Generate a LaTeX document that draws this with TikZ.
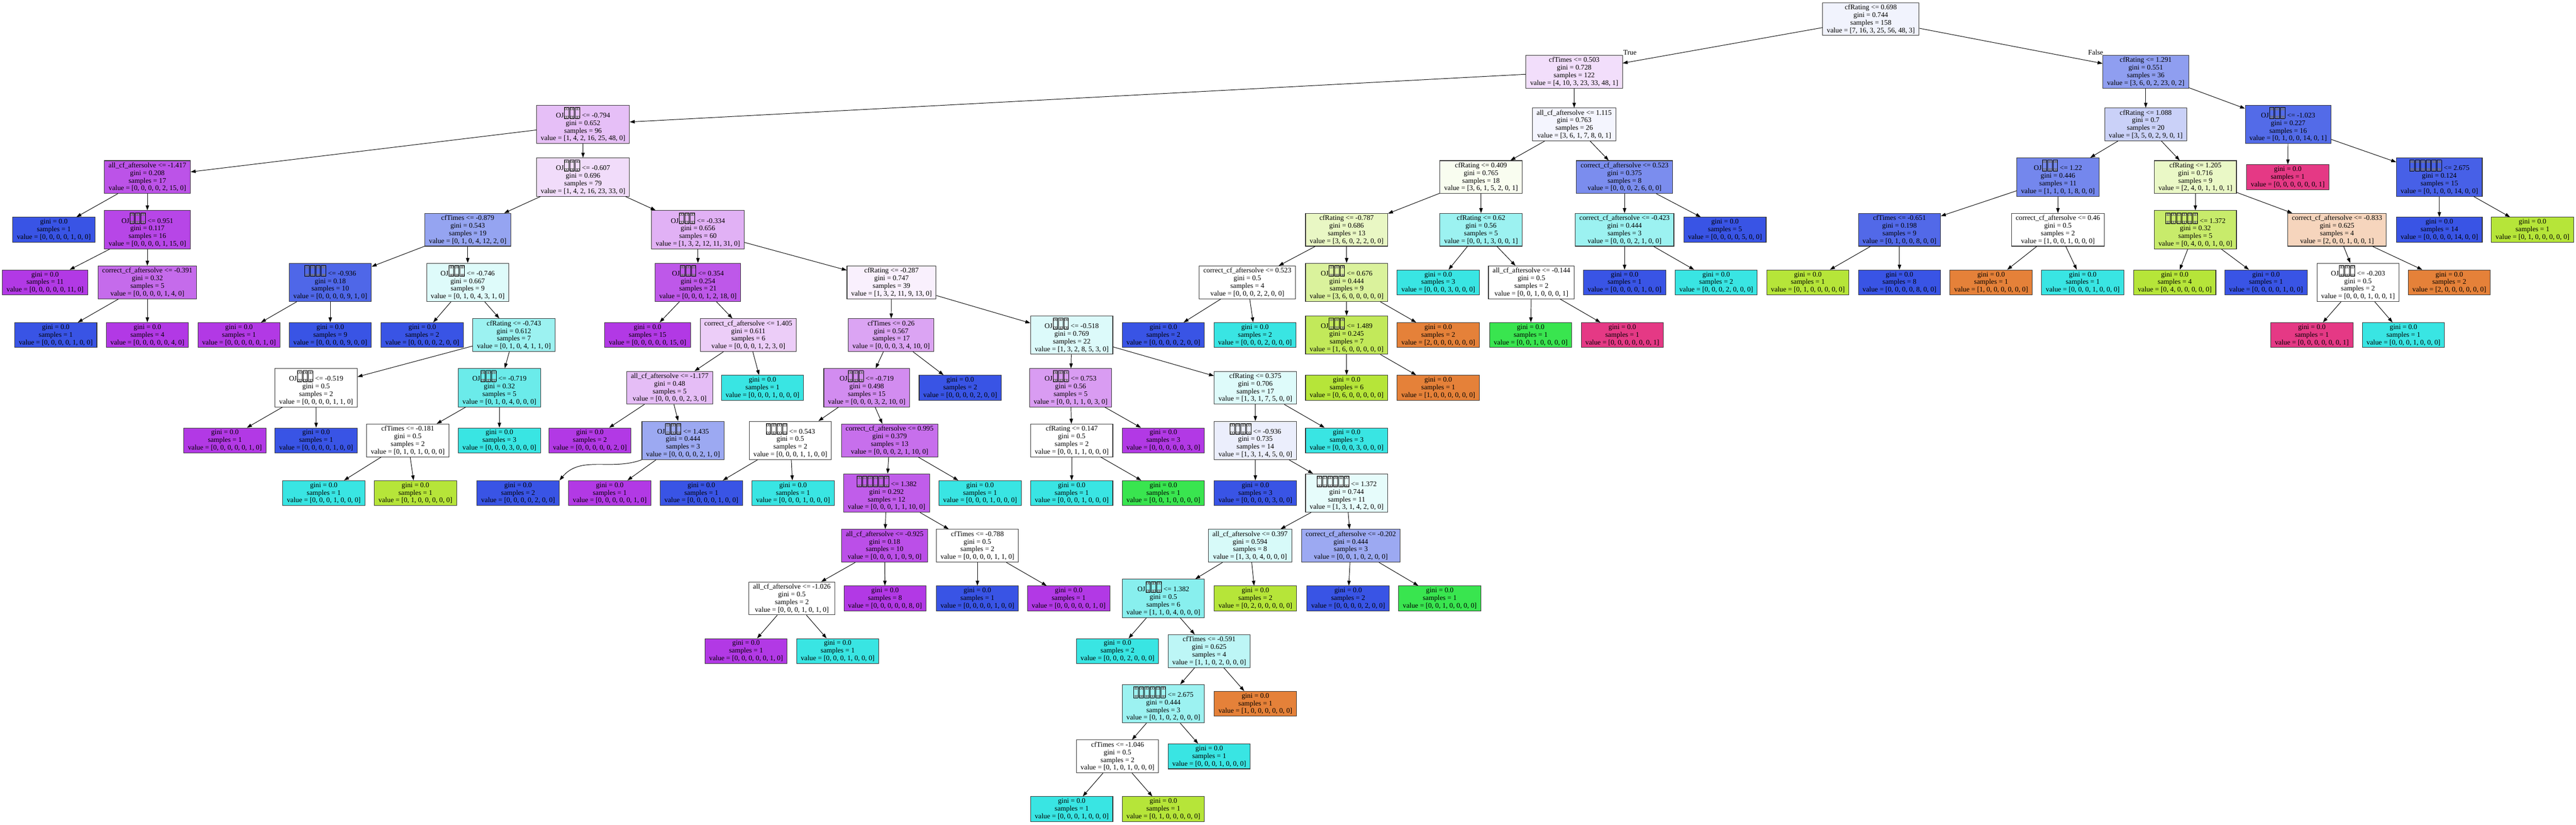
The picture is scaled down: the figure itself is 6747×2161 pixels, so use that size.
\documentclass[tikz,border=0pt]{standalone}
\usepackage{fontspec}
\setmainfont{Liberation Serif}
\usetikzlibrary{arrows.meta}
\definecolor{c0}{RGB}{229,129,57}
\definecolor{c1}{RGB}{182,229,57}
\definecolor{c2}{RGB}{57,229,79}
\definecolor{c3}{RGB}{57,229,227}
\definecolor{c4}{RGB}{57,84,229}
\definecolor{c5}{RGB}{178,57,229}
\definecolor{c6}{RGB}{229,57,133}
\newcommand\tfsmall{{\setlength\fboxrule{0.45pt}\fbox{\rule{0pt}{4.6pt}\hspace{3.2pt}}}}
\newcommand\tfbox{\kern0.9pt\begingroup\setlength\fboxsep{0pt}\setlength\fboxrule{0.8pt}\raisebox{-1.5pt}{\fbox{\kern1pt\vbox{\kern1pt\hbox{\textcolor{black!55}{\tfsmall\kern0.7pt\tfsmall}}\kern0.7pt\hbox{\textcolor{black!55}{\tfsmall\kern0.7pt\tfsmall}}\kern1pt}\kern1pt}}\endgroup\kern0.9pt}
\newcommand\ojf{OJ\tfbox\tfbox\tfbox}
\newcommand\fqf{\tfbox\tfbox\tfbox\tfbox}
\newcommand\sxf{\tfbox\tfbox\tfbox\tfbox\tfbox\tfbox}
\newcommand\lf[2]{gini = 0.0\\samples = #1\\value = [#2]}
\newcommand\acf{all\_cf\_aftersolve}
\newcommand\ccf{correct\_cf\_aftersolve}
\tikzset{
  tn/.style={draw=black!80, line width=1.4pt, rectangle, align=center, inner xsep=11pt, inner ysep=5pt, font=\fontsize{18.6}{20}\selectfont},
  edge/.style={line width=1.3pt, -{Triangle[length=13pt,width=9pt]}},
  lbl/.style={font=\fontsize{18.6}{20}\selectfont, inner sep=0pt}
}
\begin{document}
\begin{tikzpicture}[x=1pt,y=1pt]
\useasboundingbox (0,0) rectangle (6747,-2161);
\fill[white] (0,0) rectangle (6747,-2161);
% level 0-1
\node[tn, fill=c4!7.3!white] (n0) at (4900,-50) {cfRating <= 0.698\\gini = 0.744\\samples = 158\\value = [7, 16, 3, 25, 56, 48, 3]};
\node[tn, fill=c5!16.9!white] (n1) at (4123,-188) {cfTimes <= 0.503\\gini = 0.728\\samples = 122\\value = [4, 10, 3, 23, 33, 48, 1]};
\node[tn, fill=c4!56.7!white] (n100) at (5620,-188) {cfRating <= 1.291\\gini = 0.551\\samples = 36\\value = [3, 6, 0, 2, 23, 0, 2]};
\node[lbl] (tT) at (4269,-138) {True};
\node[lbl] (tF) at (5489,-138) {False};
% left big subtree
\node[tn, fill=c5!32.4!white] (n2) at (1527,-326) {\ojf{} <= -0.794\\gini = 0.652\\samples = 96\\value = [1, 4, 2, 16, 25, 48, 0]};
\node[tn, fill=c5!86.7!white] (n3) at (386,-464) {\acf{} <= -1.417\\gini = 0.208\\samples = 17\\value = [0, 0, 0, 0, 2, 15, 0]};
\node[tn, fill=c4] (n4) at (141,-602) {\lf{1}{0, 0, 0, 0, 1, 0, 0}};
\node[tn, fill=c5!93.3!white] (n5) at (386,-602) {\ojf{} <= 0.951\\gini = 0.117\\samples = 16\\value = [0, 0, 0, 0, 1, 15, 0]};
\node[tn, fill=c5] (n6) at (118,-740) {\lf{11}{0, 0, 0, 0, 0, 11, 0}};
\node[tn, fill=c5!75!white] (n7) at (386,-740) {\ccf{} <= -0.391\\gini = 0.32\\samples = 5\\value = [0, 0, 0, 0, 1, 4, 0]};
\node[tn, fill=c4] (n8) at (146,-878) {\lf{1}{0, 0, 0, 0, 1, 0, 0}};
\node[tn, fill=c5] (n9) at (386,-878) {\lf{4}{0, 0, 0, 0, 0, 4, 0}};
\node[tn, fill=c5!17.9!white] (n10) at (1527,-464) {\ojf{} <= -0.607\\gini = 0.696\\samples = 79\\value = [1, 4, 2, 16, 23, 33, 0]};
\node[tn, fill=c4!53.3!white] (n11) at (1225,-602) {cfTimes <= -0.879\\gini = 0.543\\samples = 19\\value = [0, 1, 0, 4, 12, 2, 0]};
\node[tn, fill=c4!88.9!white] (n12) at (865,-740) {\fqf{} <= -0.936\\gini = 0.18\\samples = 10\\value = [0, 0, 0, 0, 9, 1, 0]};
\node[tn, fill=c5] (n13) at (626,-878) {\lf{1}{0, 0, 0, 0, 0, 1, 0}};
\node[tn, fill=c4] (n14) at (865,-878) {\lf{9}{0, 0, 0, 0, 9, 0, 0}};
\node[tn, fill=c3!16.7!white] (n15) at (1225,-740) {\ojf{} <= -0.746\\gini = 0.667\\samples = 9\\value = [0, 1, 0, 4, 3, 1, 0]};
\node[tn, fill=c4] (n16) at (1106,-878) {\lf{2}{0, 0, 0, 0, 2, 0, 0}};
\node[tn, fill=c3!50!white] (n17) at (1346,-878) {cfRating <= -0.743\\gini = 0.612\\samples = 7\\value = [0, 1, 0, 4, 1, 1, 0]};
\node[tn, fill=white] (n18) at (828,-1016) {\ojf{} <= -0.519\\gini = 0.5\\samples = 2\\value = [0, 0, 0, 0, 1, 1, 0]};
\node[tn, fill=c5] (n19) at (589,-1154) {\lf{1}{0, 0, 0, 0, 0, 1, 0}};
\node[tn, fill=c4] (n20) at (828,-1154) {\lf{1}{0, 0, 0, 0, 1, 0, 0}};
\node[tn, fill=c3!75!white] (n21) at (1308,-1016) {\ojf{} <= -0.719\\gini = 0.32\\samples = 5\\value = [0, 1, 0, 4, 0, 0, 0]};
\node[tn, fill=white] (n22) at (1068,-1154) {cfTimes <= -0.181\\gini = 0.5\\samples = 2\\value = [0, 1, 0, 1, 0, 0, 0]};
\node[tn, fill=c3] (n23) at (848,-1292) {\lf{1}{0, 0, 0, 1, 0, 0, 0}};
\node[tn, fill=c1] (n24) at (1088,-1292) {\lf{1}{0, 1, 0, 0, 0, 0, 0}};
\node[tn, fill=c3] (n25) at (1308,-1154) {\lf{3}{0, 0, 0, 3, 0, 0, 0}};
\node[tn, fill=c5!39.6!white] (n26) at (1828,-602) {\ojf{} <= -0.334\\gini = 0.656\\samples = 60\\value = [1, 3, 2, 12, 11, 31, 0]};
\node[tn, fill=c5!84.2!white] (n27) at (1828,-740) {\ojf{} <= 0.354\\gini = 0.254\\samples = 21\\value = [0, 0, 0, 1, 2, 18, 0]};
\node[tn, fill=c5] (n28) at (1696,-878) {\lf{15}{0, 0, 0, 0, 0, 15, 0}};
\node[tn, fill=c5!25!white] (n29) at (1960,-878) {\ccf{} <= 1.405\\gini = 0.611\\samples = 6\\value = [0, 0, 0, 1, 2, 3, 0]};
\node[tn, fill=c5!33.3!white] (n30) at (1754,-1016) {\acf{} <= -1.177\\gini = 0.48\\samples = 5\\value = [0, 0, 0, 0, 2, 3, 0]};
\node[tn, fill=c5] (n31) at (1545,-1154) {\lf{2}{0, 0, 0, 0, 0, 2, 0}};
\node[tn, fill=c4!50!white] (n32) at (1789,-1154) {\ojf{} <= 1.435\\gini = 0.444\\samples = 3\\value = [0, 0, 0, 0, 2, 1, 0]};
\node[tn, fill=c4] (n33) at (1357,-1292) {\lf{2}{0, 0, 0, 0, 2, 0, 0}};
\node[tn, fill=c5] (n34) at (1597,-1292) {\lf{1}{0, 0, 0, 0, 0, 1, 0}};
\node[tn, fill=c3] (n35) at (1997,-1016) {\lf{1}{0, 0, 0, 1, 0, 0, 0}};
\node[tn, fill=c5!7.7!white] (n36) at (2335,-740) {cfRating <= -0.287\\gini = 0.747\\samples = 39\\value = [1, 3, 2, 11, 9, 13, 0]};
\node[tn, fill=c5!46.2!white] (n37) at (2334,-878) {cfTimes <= 0.26\\gini = 0.567\\samples = 17\\value = [0, 0, 0, 3, 4, 10, 0]};
\node[tn, fill=c5!58.3!white] (n38) at (2270,-1016) {\ojf{} <= -0.719\\gini = 0.498\\samples = 15\\value = [0, 0, 0, 3, 2, 10, 0]};
\node[tn, fill=white] (n39) at (2070,-1154) {\fqf{} <= 0.543\\gini = 0.5\\samples = 2\\value = [0, 0, 0, 1, 1, 0, 0]};
\node[tn, fill=c4] (n40) at (1837,-1292) {\lf{1}{0, 0, 0, 0, 1, 0, 0}};
\node[tn, fill=c3] (n41) at (2077,-1292) {\lf{1}{0, 0, 0, 1, 0, 0, 0}};
\node[tn, fill=c5!72.7!white] (n42) at (2330,-1154) {\ccf{} <= 0.995\\gini = 0.379\\samples = 13\\value = [0, 0, 0, 2, 1, 10, 0]};
\node[tn, fill=c5!81.8!white] (n43) at (2322,-1292) {\sxf{} <= 1.382\\gini = 0.292\\samples = 12\\value = [0, 0, 0, 1, 1, 10, 0]};
\node[tn, fill=c5!88.9!white] (n44) at (2317,-1430) {\acf{} <= -0.925\\gini = 0.18\\samples = 10\\value = [0, 0, 0, 1, 0, 9, 0]};
\node[tn, fill=white] (n45) at (2074,-1568) {\acf{} <= -1.026\\gini = 0.5\\samples = 2\\value = [0, 0, 0, 1, 0, 1, 0]};
\node[tn, fill=c5] (n46) at (1954,-1706) {\lf{1}{0, 0, 0, 0, 0, 1, 0}};
\node[tn, fill=c3] (n47) at (2194,-1706) {\lf{1}{0, 0, 0, 1, 0, 0, 0}};
\node[tn, fill=c5] (n48) at (2318,-1568) {\lf{8}{0, 0, 0, 0, 0, 8, 0}};
\node[tn, fill=white] (n49) at (2560,-1430) {cfTimes <= -0.788\\gini = 0.5\\samples = 2\\value = [0, 0, 0, 0, 1, 1, 0]};
\node[tn, fill=c4] (n50) at (2560,-1568) {\lf{1}{0, 0, 0, 0, 1, 0, 0}};
\node[tn, fill=c5] (n51) at (2799,-1568) {\lf{1}{0, 0, 0, 0, 0, 1, 0}};
\node[tn, fill=c3] (n52) at (2567,-1292) {\lf{1}{0, 0, 0, 1, 0, 0, 0}};
\node[tn, fill=c4] (n53) at (2515,-1016) {\lf{2}{0, 0, 0, 0, 2, 0, 0}};
\node[tn, fill=c3!17.6!white] (n54) at (2807,-878) {\ojf{} <= -0.518\\gini = 0.769\\samples = 22\\value = [1, 3, 2, 8, 5, 3, 0]};
\node[tn, fill=c5!50!white] (n55) at (2804,-1016) {\ojf{} <= 0.753\\gini = 0.56\\samples = 5\\value = [0, 0, 1, 1, 0, 3, 0]};
\node[tn, fill=white] (n56) at (2807,-1154) {cfRating <= 0.147\\gini = 0.5\\samples = 2\\value = [0, 0, 1, 1, 0, 0, 0]};
\node[tn, fill=c3] (n57) at (2807,-1292) {\lf{1}{0, 0, 0, 1, 0, 0, 0}};
\node[tn, fill=c2] (n58) at (3047,-1292) {\lf{1}{0, 0, 1, 0, 0, 0, 0}};
\node[tn, fill=c5] (n59) at (3047,-1154) {\lf{3}{0, 0, 0, 0, 0, 3, 0}};
\node[tn, fill=c3!16.7!white] (n60) at (3288,-1016) {cfRating <= 0.375\\gini = 0.706\\samples = 17\\value = [1, 3, 1, 7, 5, 0, 0]};
\node[tn, fill=c4!10!white] (n61) at (3288,-1154) {\fqf{} <= -0.936\\gini = 0.735\\samples = 14\\value = [1, 3, 1, 4, 5, 0, 0]};
\node[tn, fill=c4] (n62) at (3288,-1292) {\lf{3}{0, 0, 0, 0, 3, 0, 0}};
\node[tn, fill=c3!12.5!white] (n63) at (3527,-1292) {\sxf{} <= 1.372\\gini = 0.744\\samples = 11\\value = [1, 3, 1, 4, 2, 0, 0]};
\node[tn, fill=c3!20!white] (n64) at (3274,-1430) {\acf{} <= 0.397\\gini = 0.594\\samples = 8\\value = [1, 3, 0, 4, 0, 0, 0]};
\node[tn, fill=c3!60!white] (n65) at (3047,-1568) {\ojf{} <= 1.382\\gini = 0.5\\samples = 6\\value = [1, 1, 0, 4, 0, 0, 0]};
\node[tn, fill=c3] (n66) at (2927,-1706) {\lf{2}{0, 0, 0, 2, 0, 0, 0}};
\node[tn, fill=c3!33.3!white] (n67) at (3167,-1706) {cfTimes <= -0.591\\gini = 0.625\\samples = 4\\value = [1, 1, 0, 2, 0, 0, 0]};
\node[tn, fill=c3!50!white] (n68) at (3047,-1844) {\sxf{} <= 2.675\\gini = 0.444\\samples = 3\\value = [0, 1, 0, 2, 0, 0, 0]};
\node[tn, fill=white] (n69) at (2927,-1982) {cfTimes <= -1.046\\gini = 0.5\\samples = 2\\value = [0, 1, 0, 1, 0, 0, 0]};
\node[tn, fill=c3] (n70) at (2807,-2120) {\lf{1}{0, 0, 0, 1, 0, 0, 0}};
\node[tn, fill=c1] (n71) at (3047,-2120) {\lf{1}{0, 1, 0, 0, 0, 0, 0}};
\node[tn, fill=c3] (n72) at (3167,-1982) {\lf{1}{0, 0, 0, 1, 0, 0, 0}};
\node[tn, fill=c0] (n73) at (3288,-1844) {\lf{1}{1, 0, 0, 0, 0, 0, 0}};
\node[tn, fill=c1] (n74) at (3288,-1568) {\lf{2}{0, 2, 0, 0, 0, 0, 0}};
\node[tn, fill=c4!50!white] (n75) at (3538,-1430) {\ccf{} <= -0.202\\gini = 0.444\\samples = 3\\value = [0, 0, 1, 0, 2, 0, 0]};
\node[tn, fill=c4] (n76) at (3531,-1568) {\lf{2}{0, 0, 0, 0, 2, 0, 0}};
\node[tn, fill=c2] (n77) at (3771,-1568) {\lf{1}{0, 0, 1, 0, 0, 0, 0}};
\node[tn, fill=c3] (n78) at (3527,-1154) {\lf{3}{0, 0, 0, 3, 0, 0, 0}};
% middle subtree
\node[tn, fill=c4!5.6!white] (n79) at (4123,-326) {\acf{} <= 1.115\\gini = 0.763\\samples = 26\\value = [3, 6, 1, 7, 8, 0, 1]};
\node[tn, fill=c1!7.7!white] (n80) at (3879,-464) {cfRating <= 0.409\\gini = 0.765\\samples = 18\\value = [3, 6, 1, 5, 2, 0, 1]};
\node[tn, fill=c1!30!white] (n81) at (3527,-602) {cfRating <= -0.787\\gini = 0.686\\samples = 13\\value = [3, 6, 0, 2, 2, 0, 0]};
\node[tn, fill=white] (n82) at (3267,-740) {\ccf{} <= 0.523\\gini = 0.5\\samples = 4\\value = [0, 0, 0, 2, 2, 0, 0]};
\node[tn, fill=c4] (n83) at (3047,-878) {\lf{2}{0, 0, 0, 0, 2, 0, 0}};
\node[tn, fill=c3] (n84) at (3287,-878) {\lf{2}{0, 0, 0, 2, 0, 0, 0}};
\node[tn, fill=c1!50!white] (n85) at (3527,-740) {\ojf{} <= 0.676\\gini = 0.444\\samples = 9\\value = [3, 6, 0, 0, 0, 0, 0]};
\node[tn, fill=c1!83.3!white] (n86) at (3527,-878) {\ojf{} <= 1.489\\gini = 0.245\\samples = 7\\value = [1, 6, 0, 0, 0, 0, 0]};
\node[tn, fill=c1] (n87) at (3527,-1016) {\lf{6}{0, 6, 0, 0, 0, 0, 0}};
\node[tn, fill=c0] (n88) at (3767,-1016) {\lf{1}{1, 0, 0, 0, 0, 0, 0}};
\node[tn, fill=c0] (n89) at (3767,-878) {\lf{2}{2, 0, 0, 0, 0, 0, 0}};
\node[tn, fill=c3!50!white] (n90) at (3879,-602) {cfRating <= 0.62\\gini = 0.56\\samples = 5\\value = [0, 0, 1, 3, 0, 0, 1]};
\node[tn, fill=c3] (n91) at (3767,-740) {\lf{3}{0, 0, 0, 3, 0, 0, 0}};
\node[tn, fill=white] (n92) at (4011,-740) {\acf{} <= -0.144\\gini = 0.5\\samples = 2\\value = [0, 0, 1, 0, 0, 0, 1]};
\node[tn, fill=c2] (n93) at (4009,-878) {\lf{1}{0, 0, 1, 0, 0, 0, 0}};
\node[tn, fill=c6] (n94) at (4249,-878) {\lf{1}{0, 0, 0, 0, 0, 0, 1}};
\node[tn, fill=c4!66.7!white] (n95) at (4255,-464) {\ccf{} <= 0.523\\gini = 0.375\\samples = 8\\value = [0, 0, 0, 2, 6, 0, 0]};
\node[tn, fill=c3!50!white] (n96) at (4255,-602) {\ccf{} <= -0.423\\gini = 0.444\\samples = 3\\value = [0, 0, 0, 2, 1, 0, 0]};
\node[tn, fill=c4] (n97) at (4255,-740) {\lf{1}{0, 0, 0, 0, 1, 0, 0}};
\node[tn, fill=c3] (n98) at (4495,-740) {\lf{2}{0, 0, 0, 2, 0, 0, 0}};
\node[tn, fill=c4] (n99) at (4518,-602) {\lf{5}{0, 0, 0, 0, 5, 0, 0}};
% right subtree
\node[tn, fill=c4!26.7!white] (n101) at (5620,-326) {cfRating <= 1.088\\gini = 0.7\\samples = 20\\value = [3, 5, 0, 2, 9, 0, 1]};
\node[tn, fill=c4!70!white] (n102) at (5390,-464) {\ojf{} <= 1.22\\gini = 0.446\\samples = 11\\value = [1, 1, 0, 1, 8, 0, 0]};
\node[tn, fill=c4!87.5!white] (n103) at (4975,-602) {cfTimes <= -0.651\\gini = 0.198\\samples = 9\\value = [0, 1, 0, 0, 8, 0, 0]};
\node[tn, fill=c1] (n104) at (4735,-740) {\lf{1}{0, 1, 0, 0, 0, 0, 0}};
\node[tn, fill=c4] (n105) at (4975,-740) {\lf{8}{0, 0, 0, 0, 8, 0, 0}};
\node[tn, fill=white] (n106) at (5390,-602) {\ccf{} <= 0.46\\gini = 0.5\\samples = 2\\value = [1, 0, 0, 1, 0, 0, 0]};
\node[tn, fill=c0] (n107) at (5215,-740) {\lf{1}{1, 0, 0, 0, 0, 0, 0}};
\node[tn, fill=c3] (n108) at (5455,-740) {\lf{1}{0, 0, 0, 1, 0, 0, 0}};
\node[tn, fill=c1!28.6!white] (n109) at (5750,-464) {cfRating <= 1.205\\gini = 0.716\\samples = 9\\value = [2, 4, 0, 1, 1, 0, 1]};
\node[tn, fill=c1!75!white] (n110) at (5750,-602) {\sxf{} <= 1.372\\gini = 0.32\\samples = 5\\value = [0, 4, 0, 0, 1, 0, 0]};
\node[tn, fill=c1] (n111) at (5696,-740) {\lf{4}{0, 4, 0, 0, 0, 0, 0}};
\node[tn, fill=c4] (n112) at (5935,-740) {\lf{1}{0, 0, 0, 0, 1, 0, 0}};
\node[tn, fill=c0!33.3!white] (n113) at (6121,-602) {\ccf{} <= -0.833\\gini = 0.625\\samples = 4\\value = [2, 0, 0, 1, 0, 0, 1]};
\node[tn, fill=white] (n114) at (6176,-740) {\ojf{} <= -0.203\\gini = 0.5\\samples = 2\\value = [0, 0, 0, 1, 0, 0, 1]};
\node[tn, fill=c6] (n115) at (6055,-878) {\lf{1}{0, 0, 0, 0, 0, 0, 1}};
\node[tn, fill=c3] (n116) at (6295,-878) {\lf{1}{0, 0, 0, 1, 0, 0, 0}};
\node[tn, fill=c0] (n117) at (6415,-740) {\lf{2}{2, 0, 0, 0, 0, 0, 0}};
\node[tn, fill=c4!86.7!white] (n118) at (5993,-326) {\ojf{} <= -1.023\\gini = 0.227\\samples = 16\\value = [0, 1, 0, 0, 14, 0, 1]};
\node[tn, fill=c6] (n119) at (5992,-464) {\lf{1}{0, 0, 0, 0, 0, 0, 1}};
\node[tn, fill=c4!92.9!white] (n120) at (6389,-464) {\sxf{} <= 2.675\\gini = 0.124\\samples = 15\\value = [0, 1, 0, 0, 14, 0, 0]};
\node[tn, fill=c4] (n121) at (6389,-602) {\lf{14}{0, 0, 0, 0, 14, 0, 0}};
\node[tn, fill=c1] (n122) at (6633,-602) {\lf{1}{0, 1, 0, 0, 0, 0, 0}};
% edges
\foreach \a/\b in {n0/n1, n0/n100, n1/n2, n1/n79, n2/n3, n2/n10, n3/n4, n3/n5, n5/n6, n5/n7, n7/n8, n7/n9,
  n10/n11, n10/n26, n11/n12, n11/n15, n12/n13, n12/n14, n15/n16, n15/n17, n17/n18, n17/n21, n18/n19, n18/n20,
  n21/n22, n21/n25, n22/n23, n22/n24, n26/n27, n26/n36, n27/n28, n27/n29, n29/n30, n29/n35, n30/n31, n30/n32,
  n32/n34, n36/n37, n36/n54, n37/n38, n37/n53, n38/n39, n38/n42, n39/n40, n39/n41, n42/n43, n42/n52,
  n43/n44, n43/n49, n44/n45, n44/n48, n45/n46, n45/n47, n49/n50, n49/n51, n54/n55, n54/n60, n55/n56, n55/n59,
  n56/n57, n56/n58, n60/n61, n60/n78, n61/n62, n61/n63, n63/n64, n63/n75, n64/n65, n64/n74, n65/n66, n65/n67,
  n67/n68, n67/n73, n68/n69, n68/n72, n69/n70, n69/n71, n75/n76, n75/n77,
  n79/n80, n79/n95, n80/n81, n80/n90, n81/n82, n81/n85, n82/n83, n82/n84, n85/n86, n85/n89, n86/n87, n86/n88,
  n90/n91, n90/n92, n92/n93, n92/n94, n95/n96, n95/n99, n96/n97, n96/n98,
  n100/n101, n100/n118, n101/n102, n101/n109, n102/n103, n102/n106, n103/n104, n103/n105, n106/n107, n106/n108,
  n109/n110, n109/n113, n110/n111, n110/n112, n113/n114, n113/n117, n114/n115, n114/n116,
  n118/n119, n118/n120, n120/n121, n120/n122}
  {\draw[edge] (\a) -- (\b);}
\draw[edge] (n32.south west) to[out=200,in=50] (n33.north east);
\end{tikzpicture}
\end{document}
